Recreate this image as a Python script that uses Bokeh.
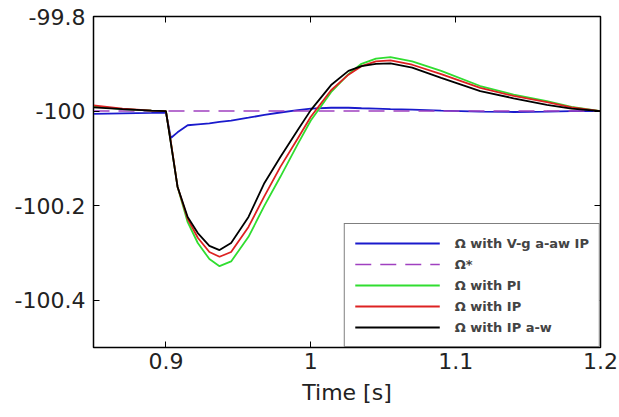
from bokeh.plotting import figure
from bokeh.models import FixedTicker, LinearAxis, Range1d, Legend
from bokeh.embed import file_html
from bokeh.resources import INLINE

# time samples [s]
t = [0.85, 0.87, 0.89, 0.9, 0.9034, 0.908, 0.915, 0.922, 0.93, 0.937, 0.945,
     0.957, 0.968, 0.979, 0.991, 1.0, 1.014, 1.026, 1.035, 1.045, 1.055,
     1.07, 1.09, 1.117, 1.14, 1.163, 1.18, 1.2]

omega_vg_aaw_ip = [-100.006, -100.005, -100.004, -100.003, -100.057, -100.045,
                   -100.03, -100.028, -100.026, -100.023, -100.02, -100.014,
                   -100.008, -100.003, -99.998, -99.995, -99.993, -99.993,
                   -99.994, -99.995, -99.996, -99.997, -99.999, -100.001,
                   -100.002, -100.001, -100.0, -100.0]

omega_ref_t = [0.85, 1.2]
omega_ref = [-100.0, -100.0]

omega_pi = [-99.99, -99.996, -99.999, -100.0, -100.066, -100.16, -100.235,
            -100.279, -100.313, -100.328, -100.318, -100.266, -100.2, -100.139,
            -100.07, -100.02, -99.96, -99.922, -99.9, -99.889, -99.886, -99.895,
            -99.915, -99.947, -99.965, -99.979, -99.991, -100.0]

omega_ip = [-99.988, -99.995, -99.999, -100.0, -100.065, -100.16, -100.228,
            -100.268, -100.298, -100.308, -100.298, -100.245, -100.18, -100.118,
            -100.058, -100.012, -99.956, -99.923, -99.905, -99.895, -99.893,
            -99.902, -99.922, -99.951, -99.968, -99.981, -99.992, -100.0]

omega_ip_aw = [-99.992, -99.996, -99.999, -100.0, -100.068, -100.16, -100.224,
               -100.258, -100.285, -100.294, -100.279, -100.224, -100.152,
               -100.097, -100.04, -99.998, -99.945, -99.915, -99.905, -99.9,
               -99.899, -99.908, -99.93, -99.958, -99.973, -99.987, -99.995,
               -100.0]

labels = ["Ω with V-g a-aw IP", "Ω*", "Ω with PI", "Ω with IP", "Ω with IP a-w"]

x_ticks = [0.9, 1.0, 1.1, 1.2]
x_tick_labels = ["0.9", "1", "1.1", "1.2"]
y_ticks = [-100.4, -100.2, -100.0, -99.8]
y_tick_labels = ["-100.4", "-100.2", "-100", "-99.8"]

FONT = "DejaVu Sans"

p = figure(width=619, height=417, output_backend="svg", toolbar_location=None,
           x_range=Range1d(0.85, 1.2), y_range=Range1d(-100.5, -99.8),
           min_border_left=93, min_border_right=19, min_border_top=16,
           min_border_bottom=70)
p.xgrid.visible = False
p.ygrid.visible = False
p.outline_line_color = "black"
p.outline_line_width = 1.5
p.background_fill_color = "white"
p.border_fill_color = "white"

r1 = p.line(t, omega_vg_aaw_ip, line_color="#1a1acc", line_width=1.8)
r2 = p.line(omega_ref_t, omega_ref, line_color="#a040c0", line_width=1.5,
            line_dash="16 9")
r3 = p.line(t, omega_pi, line_color="#30dd30", line_width=1.8)
r4 = p.line(t, omega_ip, line_color="#dd2222", line_width=1.8)
r5 = p.line(t, omega_ip_aw, line_color="black", line_width=1.8)

legend = Legend(items=[(labels[0], [r1]), (labels[1], [r2]), (labels[2], [r3]),
                       (labels[3], [r4]), (labels[4], [r5])],
                location="bottom_right", margin=0, padding=10, spacing=3,
                glyph_width=85, glyph_height=18, label_standoff=15,
                label_text_font=FONT, label_text_font_size="13px",
                label_text_font_style="bold", border_line_color="black",
                border_line_width=1.5, background_fill_alpha=1.0)
p.add_layout(legend, "center")

for ax in (p.xaxis[0], p.yaxis[0]):
    ax.major_tick_in = 6
    ax.major_tick_out = 0
    ax.minor_tick_line_color = None
    ax.axis_line_color = "black"
    ax.major_tick_line_color = "black"
    ax.major_label_text_font = FONT
    ax.major_label_text_font_size = "22px"
    ax.major_label_text_color = "#222222"

p.xaxis.ticker = FixedTicker(ticks=x_ticks)
p.xaxis.major_label_overrides = dict(zip(x_ticks, x_tick_labels))
p.yaxis.ticker = FixedTicker(ticks=y_ticks)
p.yaxis.major_label_overrides = dict(zip(y_ticks, y_tick_labels))
p.xaxis.axis_label = "Time [s]"
p.xaxis.axis_label_text_font = FONT
p.xaxis.axis_label_text_font_size = "22px"
p.xaxis.axis_label_text_font_style = "normal"
p.xaxis.axis_label_text_color = "#222222"
p.xaxis.axis_label_standoff = 8
p.xaxis.major_label_standoff = 5
p.yaxis.major_label_standoff = 8

top = LinearAxis(ticker=FixedTicker(ticks=x_ticks), major_tick_in=6,
                 major_tick_out=0, minor_tick_line_color=None,
                 major_label_text_font_size="0px", major_label_text_color=None)
right = LinearAxis(ticker=FixedTicker(ticks=y_ticks), major_tick_in=6,
                   major_tick_out=0, minor_tick_line_color=None,
                   major_label_text_font_size="0px", major_label_text_color=None)
p.add_layout(top, "above")
p.add_layout(right, "right")

open("out.html", "w").write(file_html(p, INLINE))
